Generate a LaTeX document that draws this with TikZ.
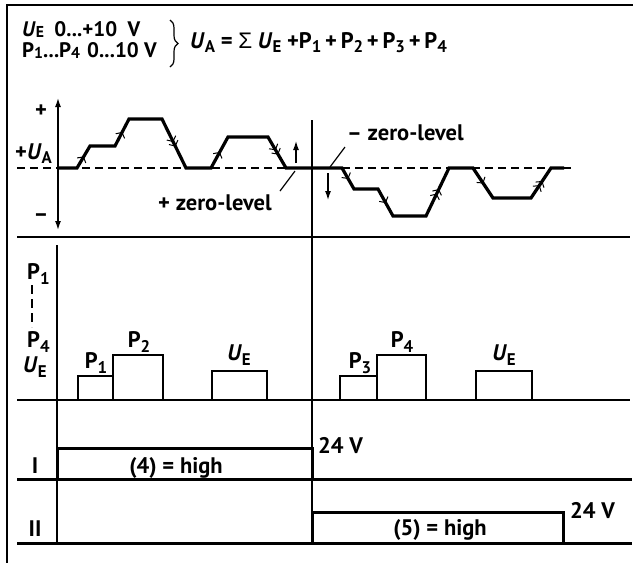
\documentclass[tikz,border=0pt]{standalone}
\usepackage{fontspec}
\usepackage{graphicx}
\setmainfont{PT Sans}
\newfontfamily\greekfont{Liberation Sans}
\usetikzlibrary{arrows.meta,decorations.markings,decorations.pathreplacing}
\newcommand\sublow{0.25em}
\newcommand\sbs[1]{\raisebox{-\sublow}{\scalebox{0.75}{#1}}}
\newcommand\Uv[1]{\textit{U}\sbs{#1}}
\begin{document}
\begin{tikzpicture}[x=1pt,y=-1pt,
  every node/.style={inner sep=0pt},
  font=\bfseries\fontsize{22.5}{26}\selectfont,
  hdr/.style={font=\bfseries\fontsize{21}{24}\selectfont\renewcommand\sublow{0.08em}},
  frm/.style={font=\bfseries\fontsize{22.5}{26}\selectfont\renewcommand\sublow{0.18em}},
  thinl/.style={line width=1.2pt},
  axisl/.style={line width=1.4pt},
  dashl/.style={line width=1.2pt, dash pattern=on 8pt off 5pt},
  wave/.style={line width=3.2pt, line join=miter},
  sig/.style={line width=3pt},
  boxl/.style={line width=2.2pt},
  tipa/.style={-{Latex[length=9pt,width=6pt]}},
  chone/.style={postaction={decorate}, decoration={markings,
     mark=at position 0.5 with {\draw[line width=1pt] (-4,5) -- (0,0) -- (-4,-5);}}},
  chtwo/.style={postaction={decorate}, decoration={markings,
     mark=at position 0.55 with {\draw[line width=1pt] (-4,5) -- (0,0) -- (-4,-5); \draw[line width=1pt] (-9,5) -- (-5,0) -- (-9,-5);}}}
]
\useasboundingbox (0,0) rectangle (633,563);
% frame
\draw[axisl] (7,570) -- (7,5) -- (640,5);
% header
\node[hdr, anchor=base west] (h1) at (22,36) {\makebox[118pt][s]{\Uv{E}\hfill0...+10\hfill V}};
\node[hdr, anchor=base west] (h2) at (22,57) {P\sbs{1}...P\sbs{4}\hspace{7pt}0...10 V};
\draw[thinl, decorate, decoration={brace, amplitude=8pt}] (170,20) -- (170,67);
\node[frm, anchor=base west] (f) at (190,48) {\Uv{A} = {\greekfont\mdseries Σ} \Uv{E} +P\sbs{1}\,+\,P\sbs{2}\,+\,P\sbs{3}\,+\,P\sbs{4}};
% separators
\draw[thinl] (17,237) -- (630,237);
\draw[thinl] (17,400) -- (630,400);
% axes
\coordinate (ax1) at (58,230);
\coordinate (ax2) at (58,98);
\draw[axisl, {Latex[length=9pt,width=6pt]}-{Latex[length=9pt,width=6pt]}] (ax1) -- (ax2);
\draw[axisl] (57,245) -- (57,543);
\draw[axisl] (312,120) -- (312,543);
\node (plus) at (41,111) {+};
\node[anchor=base west, frm] (ua) at (15,159) {+\Uv{A}};
\node (minus) at (41,218) {–};
% zero line
\draw[dashl] (17,168) -- (572,168);
% waveform
\coordinate (w0) at (58,168);  \coordinate (w1) at (77,168);
\coordinate (w2) at (90,146);  \coordinate (w3) at (115,146);
\coordinate (w4) at (129,119); \coordinate (w5) at (162,119);
\coordinate (w6) at (186,168); \coordinate (w7) at (211,168);
\coordinate (w8) at (228,137); \coordinate (w9) at (268,137);
\coordinate (w10) at (286,168); \coordinate (w11) at (342,168);
\coordinate (w12) at (354,189); \coordinate (w13) at (378,189);
\coordinate (w14) at (393,216); \coordinate (w15) at (426,216);
\coordinate (w16) at (449,168); \coordinate (w17) at (473,168);
\coordinate (w18) at (493,198); \coordinate (w19) at (531,198);
\coordinate (w20) at (551,168); \coordinate (w21) at (564,168);
\draw[wave] (w0) -- (w1) -- (w2) -- (w3) -- (w4) -- (w5) -- (w6) -- (w7) -- (w8) -- (w9) -- (w10) -- (w11) -- (w12) -- (w13) -- (w14) -- (w15) -- (w16) -- (w17) -- (w18) -- (w19) -- (w20) -- (w21);
\path[chone] (w1) -- (w2);
\path[chone] (w3) -- (w4);
\path[chtwo] (w5) -- (w6);
\path[chone] (w7) -- (w8);
\path[chtwo] (w9) -- (w10);
\path[chone] (w11) -- (w12);
\path[chone] (w13) -- (w14);
\path[chtwo] (w15) -- (w16);
\path[chone] (w17) -- (w18);
\path[chtwo] (w19) -- (w20);
% zero-level arrows
\coordinate (upa) at (296,163); \coordinate (upb) at (296,141);
\draw[thinl, tipa] (upa) -- (upb);
\coordinate (dna) at (328,173); \coordinate (dnb) at (328,200);
\draw[thinl, tipa] (dna) -- (dnb);
\node[anchor=base west] (pz) at (158,210) {+ zero-level};
\node[anchor=base west] (mz) at (347,140) {– zero-level};
\coordinate (pzt) at (295,171); \coordinate (mzt) at (330,167);
\coordinate (pzs) at (280,191); \coordinate (mzs) at (345,147);
\draw[thinl] (pzs) -- (pzt);
\draw[thinl] (mzs) -- (mzt);
% middle section labels
\node[anchor=base west] (lp1) at (27,279) {P\sbs{1}};
\draw[thinl, dash pattern=on 9pt off 5pt] (32,285) -- (32,327);
\node[anchor=base west] (lp4) at (27,347) {P\sbs{4}};
\node[anchor=base west] (lue) at (23,372) {\Uv{E}};
% boxes
\draw[boxl] (78,400) -- (78,376) -- (113,376) -- (113,400);
\draw[boxl] (113,376) -- (113,355) -- (163,355) -- (163,400);
\draw[boxl] (212,400) -- (212,371) -- (267,371) -- (267,400);
\draw[boxl] (340,400) -- (340,376) -- (377,376) -- (377,400);
\draw[boxl] (377,376) -- (377,355) -- (426,355) -- (426,400);
\draw[boxl] (476,400) -- (476,371) -- (532,371) -- (532,400);
\node[anchor=base] (bp1) at (96,368) {P\sbs{1}};
\node[anchor=base] (bp2) at (139,347) {P\sbs{2}};
\node[anchor=base] (bue1) at (239,360) {\Uv{E}};
\node[anchor=base] (bp3) at (360,368) {P\sbs{3}};
\node[anchor=base] (bp4) at (402,347) {P\sbs{4}};
\node[anchor=base] (bue2) at (504,360) {\Uv{E}};
% signals
\draw[sig] (17,479) -- (632,479);
\draw[sig] (17,479) -- (57,479) -- (57,448) -- (312,448) -- (312,479);
\draw[sig] (17,543) -- (632,543);
\draw[sig] (312,543) -- (312,512) -- (563,512) -- (563,543);
\node[anchor=base] (l1) at (35,473) {I};
\node[anchor=base] (l2) at (35,536) {II};
\node[anchor=base] (h4) at (176,473) {(4) = high};
\node[anchor=base] (h5) at (440,535) {(5) = high};
\node[anchor=base west] (v1) at (318,453) {24 V};
\node[anchor=base west] (v2) at (570,518) {24 V};
\end{tikzpicture}
\end{document}
